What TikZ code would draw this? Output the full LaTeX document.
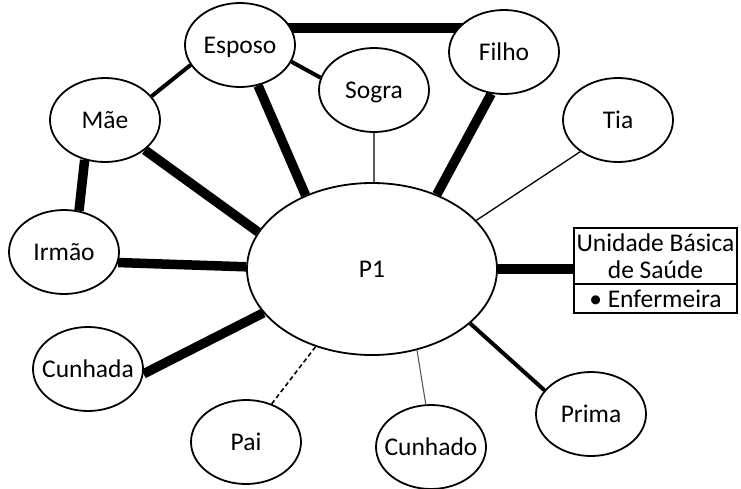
\documentclass[tikz,border=0pt]{standalone}
\usepackage{fontspec}
\setmainfont{Carlito}
\usetikzlibrary{shapes.geometric,backgrounds,calc}
\tikzset{
  person/.style={ellipse, draw, line width=1.8pt, fill=white,
    minimum width=110pt, minimum height=84pt, inner sep=0pt},
  core/.style={ellipse, draw, line width=1.8pt, fill=white,
    minimum width=250pt, minimum height=172pt, inner sep=0pt},
  tagtext/.style={inner sep=0pt, text height=16.4pt, text depth=0pt},
  boxpart/.style={draw, line width=2.4pt, fill=white, inner sep=0pt,
    minimum width=163pt, align=center},
  strong/.style={line width=9.5pt, line cap=butt},
  medium/.style={line width=4pt, line cap=butt},
  weak/.style={line width=1.3pt},
  faint/.style={line width=1.1pt, draw=black!65},
  fragile/.style={line width=1.6pt, dash pattern=on 4.5pt off 3pt}
}
\begin{document}
\begin{tikzpicture}[x=1pt, y=-1pt, font=\fontsize{25.5}{26.5}\selectfont]
\useasboundingbox (0,0) rectangle (741,488);

% people around P1
\node[core,   label={[tagtext]center:P1}]      (p1)      at (372,269) {};
\node[person, label={[tagtext]center:Esposo}]  (esposo)  at (240,45)  {};
\node[person, label={[tagtext]center:Mãe}]     (mae)     at (105,120) {};
\node[person, label={[tagtext]center:Sogra}]   (sogra)   at (374,90)  {};
\node[person, label={[tagtext]center:Filho}]   (filho)   at (504,52)  {};
\node[person, label={[tagtext]center:Tia}]     (tia)     at (618,120) {};
\node[person, label={[tagtext]center:Irmão}]   (irmao)   at (64,252)  {};
\node[person, label={[tagtext]center:Cunhada}] (cunhada) at (88,369)  {};
\node[person, label={[tagtext]center:Pai}]     (pai)     at (246,442) {};
\node[person, label={[tagtext]center:Cunhado}] (cunhado) at (431,447) {};
\node[person, label={[tagtext]center:Prima}]   (prima)   at (591,414) {};

% health unit box
\node[boxpart, minimum height=56pt] (ubs) at (655.5,256)
  {Unidade Básica\\de Saúde};
\node[boxpart, minimum height=29pt] (enf) at (655.5,298.5)
  {\textbullet\ Enfermeira};

% upper couple tie runs level, from inside Esposo to inside Filho
\coordinate (tietop) at ($(esposo)+(0,-17)$);

% ties (drawn behind the filled shapes)
\begin{scope}[on background layer]
\draw[strong] (tietop) -- (tietop -| filho);
\draw[medium] (esposo.-18.8) -- (sogra.167);
\draw[medium] (esposo.202.6) -- (mae.27);
\draw[strong] (esposo.-66.3) -- (p1.132.5);
\draw[strong] (mae.-37.3) -- (p1.162.5);
\draw[strong] (mae.243.4) -- (irmao.70.7);
\draw[strong] (irmao.-11) -- (p1.179.5);
\draw[strong] (cunhada.-5) -- (p1.202);
\draw[fragile] (pai.56.3) -- (p1.234.8);
\draw[faint] (cunhado.97) -- (p1.299.6);
\draw[medium] (prima.153.4) -- (p1.-29.2);
\draw[strong] (p1.east) -- (p1.east -| ubs.west);
\draw[weak] (tia.220.1) -- (p1.25);
\draw[faint] (sogra.south) -- (sogra.south |- p1.north);
\draw[strong] (filho.253.7) -- (p1.49.6);
\end{scope}
\end{tikzpicture}
\end{document}
